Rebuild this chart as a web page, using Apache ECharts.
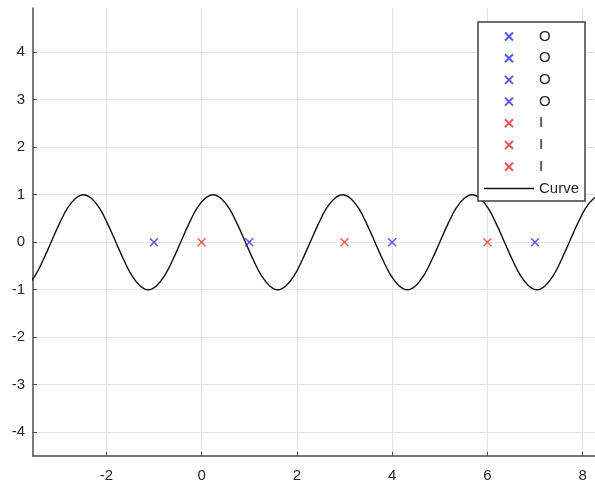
<!DOCTYPE html>
<html>
<head>
<meta charset="utf-8">
<script src="https://cdn.jsdelivr.net/npm/echarts@6/dist/echarts.min.js"></script>
<style>
  html, body { margin: 0; padding: 0; background: #fff; }
  #chart { width: 595px; height: 489px; }
</style>
</head>
<body>
<div id="chart"></div>
<script>
// curve
var curveX = [-3.67, -3.50, -3.33, -3.16, -2.99, -2.82, -2.65, -2.48, -2.31, -2.14, -1.97, -1.80,
  -1.63, -1.46, -1.29, -1.12, -0.95, -0.78, -0.61, -0.44, -0.27, -0.10, 0.07, 0.24,
  0.41, 0.58, 0.75, 0.92, 1.09, 1.26, 1.43, 1.60, 1.77, 1.94, 2.11, 2.28,
  2.45, 2.62, 2.79, 2.96, 3.13, 3.30, 3.47, 3.64, 3.81, 3.98, 4.15, 4.32,
  4.49, 4.66, 4.83, 5.00, 5.17, 5.34, 5.51, 5.68, 5.85, 6.02, 6.19, 6.36,
  6.53, 6.70, 6.87, 7.04, 7.21, 7.38, 7.55, 7.72, 7.89, 8.06, 8.23, 8.40];
var curveY = [-0.92, -0.71, -0.38, 0, 0.38, 0.71, 0.92, 1, 0.92, 0.71, 0.38, 0,
  -0.38, -0.71, -0.92, -1, -0.92, -0.71, -0.38, 0, 0.38, 0.71, 0.92, 1,
  0.92, 0.71, 0.38, 0, -0.38, -0.71, -0.92, -1, -0.92, -0.71, -0.38, 0,
  0.38, 0.71, 0.92, 1, 0.92, 0.71, 0.38, 0, -0.38, -0.71, -0.92, -1,
  -0.92, -0.71, -0.38, 0, 0.38, 0.71, 0.92, 1, 0.92, 0.71, 0.38, 0,
  -0.38, -0.71, -0.92, -1, -0.92, -0.71, -0.38, 0, 0.38, 0.71, 0.92, 1];

// markers
var blueX = [-1, 1, 4, 7];
var redX = [0, 3, 6];
var markY = 0;

var xRange = [-3.54, 8.26];
var yRange = [-4.5, 4.93];

var crossPath = 'path://M0,0L10,10M10,0L0,10';
var font = '"Liberation Sans", Arial, sans-serif';

var chart = echarts.init(document.getElementById('chart'));

var series = [];
var legendNames = [];
blueX.forEach(function (x, i) {
  var nm = 'O' + (i + 1);
  legendNames.push(nm);
  series.push({
    name: nm, type: 'scatter', symbol: crossPath, symbolSize: 8,
    itemStyle: { color: 'none', borderColor: '#2a2ae6', borderWidth: 1.4 },
    data: [[x, markY]], z: 3
  });
});
redX.forEach(function (x, i) {
  var nm = 'I' + (i + 1);
  legendNames.push(nm);
  series.push({
    name: nm, type: 'scatter', symbol: crossPath, symbolSize: 8,
    itemStyle: { color: 'none', borderColor: '#ec2a2a', borderWidth: 1.4 },
    data: [[x, markY]], z: 3
  });
});
var curveData = curveX.map(function (x, i) { return [x, curveY[i]]; });
legendNames.push({ name: 'Curve', icon: 'path://M0,0L50,0L50,1.5L0,1.5Z' });
series.push({
  name: 'Curve', type: 'line', smooth: 0.4, symbol: 'none',
  lineStyle: { color: '#111', width: 1.4 },
  itemStyle: { color: '#111' },
  data: curveData, z: 2
});

var option = {
  backgroundColor: '#fff',
  animation: false,
  grid: { left: 33, top: 8, right: 0, bottom: 33 },
  legend: {
    orient: 'vertical',
    left: 478, top: 22,
    padding: [7, 6, 5, 6],
    itemWidth: 50, itemHeight: 8, itemGap: 6.7, itemTextGap: 7,
    backgroundColor: '#fff',
    borderColor: '#404040', borderWidth: 1.5, borderRadius: 0,
    textStyle: { fontFamily: font, fontSize: 15, color: '#262626' },
    formatter: function (n) { return n === 'Curve' ? n : n.charAt(0); },
    data: legendNames
  },
  xAxis: {
    type: 'value', min: xRange[0], max: xRange[1],
    splitNumber: 5, minInterval: 2, maxInterval: 2,
    axisLine: { show: true, onZero: false, lineStyle: { color: '#4d4d4d', width: 1.5 } },
    axisTick: { show: true, inside: true, length: 4, lineStyle: { color: '#4d4d4d' } },
    axisLabel: { showMinLabel: false, showMaxLabel: false, margin: 12,
      fontFamily: font, fontSize: 15, color: '#262626' },
    splitLine: { show: true, showMinLine: false, showMaxLine: false, lineStyle: { color: '#e3e3e3', width: 1 } }
  },
  yAxis: {
    type: 'value', min: yRange[0], max: yRange[1],
    splitNumber: 10, minInterval: 1, maxInterval: 1,
    axisLine: { show: true, onZero: false, lineStyle: { color: '#4d4d4d', width: 1.5 } },
    axisTick: { show: true, inside: true, length: 4, lineStyle: { color: '#4d4d4d' } },
    axisLabel: { showMinLabel: false, showMaxLabel: false, margin: 8,
      fontFamily: font, fontSize: 15, color: '#262626' },
    splitLine: { show: true, showMinLine: false, showMaxLine: false, lineStyle: { color: '#e3e3e3', width: 1 } }
  },
  series: series
};
chart.setOption(option);
</script>
</body>
</html>
